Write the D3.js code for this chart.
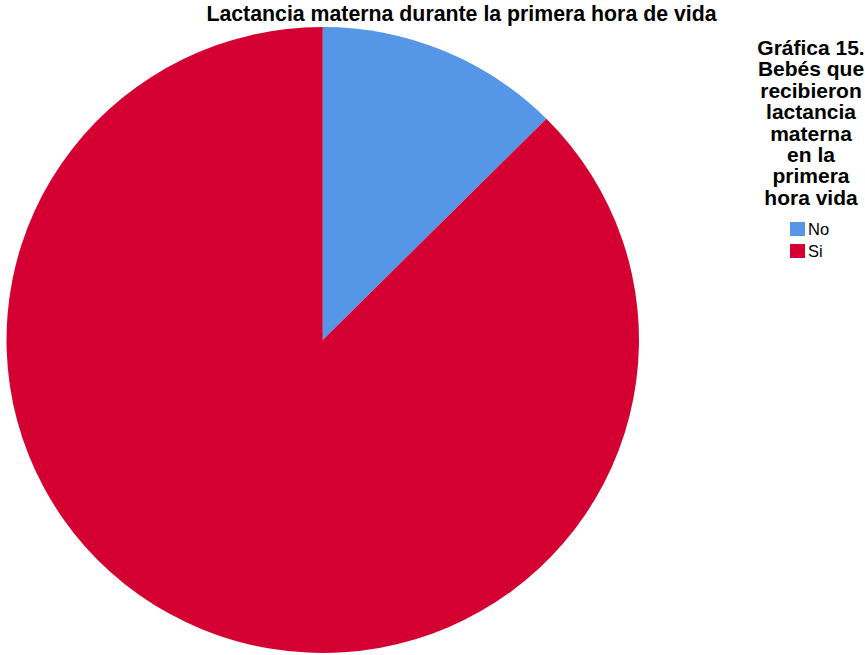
<!DOCTYPE html>
<html>
<head>
<meta charset="utf-8">
<script src="https://cdn.jsdelivr.net/npm/d3@7"></script>
<style>
  html, body { margin: 0; padding: 0; background: #fff; }
  svg { display: block; }
  text { font-family: "Liberation Sans", Arial, sans-serif; }
</style>
</head>
<body>
<svg id="chart" width="865" height="655"></svg>
<script>
// Categories and their share (%) of babies
const categories = ["No", "Si"];
const values = [12.5, 87.5];
const colors = ["#5596e6", "#d50032"];

const chartTitle = "Lactancia materna durante la primera hora de vida";
const legendTitle = ["Gráfica 15.", "Bebés que", "recibieron", "lactancia", "materna", "en la", "primera", "hora vida"];

const svg = d3.select("#chart");

const cx = 322.75, cy = 340, rx = 316.25, ry = 313;

const color = d3.scaleOrdinal().domain(categories).range(colors);

const pie = d3.pie().sort(null).value(d => d.value);
const arc = d3.arc().innerRadius(0).outerRadius(rx);

const data = categories.map((c, i) => ({ cat: c, value: values[i] }));

svg.append("g")
  .attr("transform", `translate(${cx},${cy}) scale(1,${ry / rx})`)
  .selectAll("path")
  .data(pie(data))
  .join("path")
  .attr("d", arc)
  .attr("fill", d => color(d.data.cat));

// Chart title
svg.append("text")
  .attr("x", 461.5)
  .attr("y", 21)
  .attr("text-anchor", "middle")
  .attr("font-size", 21.3)
  .attr("font-weight", "bold")
  .attr("fill", "#000")
  .text(chartTitle);

// Legend title, centered multi-line
const lt = svg.append("text")
  .attr("text-anchor", "middle")
  .attr("font-size", 21)
  .attr("font-weight", "bold")
  .attr("fill", "#000");
legendTitle.forEach((line, i) => {
  lt.append("tspan").attr("x", 811).attr("y", 55 + i * 21.4).text(line);
});

// Legend entries
const legend = svg.append("g").attr("transform", "translate(790,222)");
const items = legend.selectAll("g")
  .data(categories)
  .join("g")
  .attr("transform", (d, i) => `translate(0,${i * 22})`);
items.append("rect")
  .attr("width", 15).attr("height", 14)
  .attr("fill", d => color(d));
items.append("text")
  .attr("x", 18).attr("y", 13)
  .attr("font-size", 16.5)
  .attr("fill", "#000")
  .text(d => d);
</script>
</body>
</html>
